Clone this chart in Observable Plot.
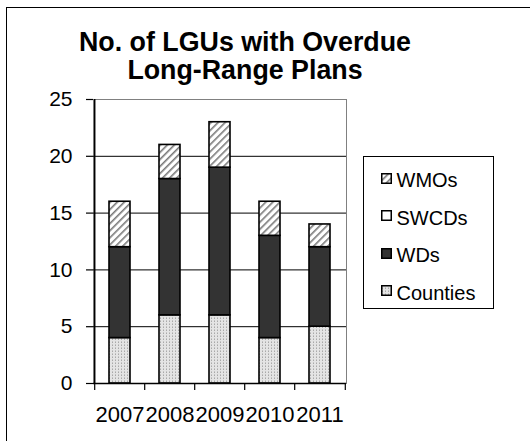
<!DOCTYPE html>
<html><head><meta charset="utf-8">
<script src="https://cdn.jsdelivr.net/npm/d3@7"></script>
<script src="https://cdn.jsdelivr.net/npm/@observablehq/plot@0.6"></script>
<style>
body{margin:0;background:#fff;font-family:"Liberation Sans",Arial,sans-serif;}
#wrap{position:relative;width:530px;height:441px;overflow:hidden;background:#fff;}
#border{position:absolute;left:6px;top:7px;width:600px;height:500px;border-left:1.5px solid #000;border-top:1.5px solid #000;}
#chart{position:absolute;left:0;top:0;}
#title{position:absolute;left:0;top:28.2px;width:490px;text-align:center;font-weight:bold;font-size:26.8px;line-height:28px;color:#000;}
#legend{position:absolute;left:363px;top:156px;width:129px;height:151px;border:1.5px solid #000;background:#fff;}
.lt{position:absolute;font-size:20px;line-height:20px;color:#000;white-space:nowrap;}
.sw{position:absolute;}
</style></head><body>
<div id="wrap">
  <div id="border"></div>
  <div id="chart"></div>
  <div id="title">No. of LGUs with Overdue<br>Long-Range Plans</div>
  <div id="legend"></div>
</div>
<script>
const years = ["2007", "2008", "2009", "2010", "2011"];
const seriesNames = ["Counties", "WDs", "SWCDs", "WMOs"];
const counties = [4, 6, 6, 4, 5];
const wds = [8, 12, 13, 9, 7];
const swcds = [0, 0, 0, 0, 0];
const wmos = [4, 3, 4, 3, 2];
const yTicks = [0, 5, 10, 15, 20, 25];
const legendOrder = ["WMOs", "SWCDs", "WDs", "Counties"];

const fills = ["url(#pCounties)", "#333333", "#ffffff", "url(#pWMOs)"];
const seriesArrays = [counties, wds, swcds, wmos];
const rows = [];
years.forEach((yr, i) => {
  seriesArrays.forEach((arr, j) => rows.push({year: yr, series: seriesNames[j], value: arr[i]}));
});

const W = 530, H = 441, mL = 93, mR = 184, mT = 99, mB = 58;
const pInner = 0.585, pOuter = 0.2925;
const step = (W - mL - mR) / (years.length - pInner + 2 * pOuter);

const chart = Plot.plot({
  width: W, height: H,
  marginLeft: mL, marginRight: mR, marginTop: mT, marginBottom: mB,
  style: {fontFamily: "'Liberation Sans', Arial, sans-serif", fontSize: "21px", color: "#000", background: "transparent", overflow: "visible"},
  x: {domain: years, paddingInner: pInner, paddingOuter: pOuter, axis: null},
  y: {domain: [0, 25], axis: null},
  color: {type: "ordinal", domain: seriesNames, range: fills},
  marks: [
    Plot.frame({stroke: "#808080", strokeWidth: 1}),
    Plot.ruleY(yTicks.filter(t => t > 0 && t < 25), {stroke: "#000", strokeWidth: 1}),
    Plot.barY(rows, {x: "year", y: "value", fill: "series", stroke: "#000", strokeWidth: 1.6}),
    Plot.ruleY([0], {stroke: "#000", strokeWidth: 1.5}),
    Plot.ruleX([years[0]], {dx: -step / 2, stroke: "#000", strokeWidth: 1.5}),
    Plot.axisY({ticks: yTicks, tickSize: 7, tickPadding: 14, label: null, stroke: "#000", strokeWidth: 1.2, fontSize: 21}),
    Plot.axisX({dx: -step / 2, tickSize: 7, tickFormat: () => "", label: null, stroke: "#000", strokeWidth: 1.2}),
    Plot.axisX({ticks: [years[years.length - 1]], dx: step / 2, tickSize: 7, tickFormat: () => "", label: null, stroke: "#000", strokeWidth: 1.2}),
    Plot.axisX({tickSize: 0, tickPadding: 23, label: null, fontSize: 22})
  ]
});
document.getElementById("chart").append(chart);

// patterns
const svg = d3.select(chart);
const defs = svg.insert("defs", ":first-child");
const pc = defs.append("pattern").attr("id", "pCounties").attr("patternUnits", "userSpaceOnUse").attr("width", 3).attr("height", 3);
pc.append("rect").attr("width", 3).attr("height", 3).attr("fill", "#e4e4e4");
pc.append("rect").attr("x", 1).attr("y", 0).attr("width", 1).attr("height", 1).attr("fill", "#a9a9a9");
pc.append("rect").attr("x", 1).attr("y", 2).attr("width", 1).attr("height", 1).attr("fill", "#c4c4c4");
const pw = defs.append("pattern").attr("id", "pWMOs").attr("patternUnits", "userSpaceOnUse").attr("width", 5).attr("height", 5).attr("patternTransform", "rotate(45)");
pw.append("rect").attr("width", 5).attr("height", 5).attr("fill", "#ffffff");
pw.append("rect").attr("x", 0).attr("width", 1.6).attr("height", 5).attr("fill", "#7a7a7a");

// legend
const legend = document.getElementById("legend");
const colorOf = Object.fromEntries(seriesNames.map((s, i) => [s, fills[i]]));
const baseline0 = 186 - 156, gap = 37.5;
legendOrder.forEach((name, k) => {
  const b = baseline0 + k * gap;
  const sw = document.createElementNS("http://www.w3.org/2000/svg", "svg");
  sw.setAttribute("width", 11); sw.setAttribute("height", 11);
  sw.setAttribute("class", "sw");
  sw.style.left = (381 - 363 - 1.5) + "px";
  sw.style.top = (b - 14.5) + "px";
  const r = document.createElementNS("http://www.w3.org/2000/svg", "rect");
  r.setAttribute("x", 0.75); r.setAttribute("y", 0.75); r.setAttribute("width", 9.5); r.setAttribute("height", 9.5);
  r.setAttribute("fill", colorOf[name]); r.setAttribute("stroke", "#000"); r.setAttribute("stroke-width", 1.5);
  sw.appendChild(r);
  legend.appendChild(sw);
  const t = document.createElement("div");
  t.className = "lt";
  t.textContent = name;
  t.style.left = (397 - 363 - 1.5) + "px";
  t.style.top = (b - 16.9) + "px";
  legend.appendChild(t);
});
</script>
</body></html>
